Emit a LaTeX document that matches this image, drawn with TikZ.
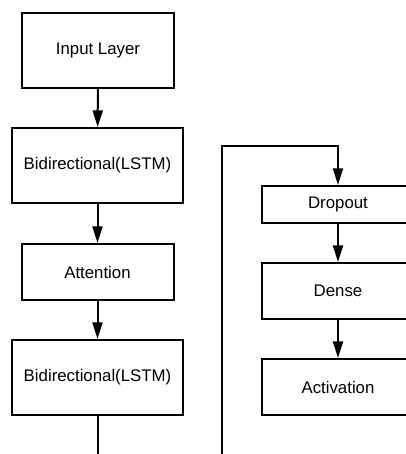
\documentclass[tikz,border=0pt]{standalone}
\usepackage{fontspec}
\setmainfont{Liberation Sans}
\usetikzlibrary{arrows.meta, positioning}

\tikzset{
    layer/.style={draw, rectangle, line width=1.5pt, minimum width=114pt,
        minimum height=42pt, font=\fontsize{12.6}{15}\selectfont},
    widelayer/.style={layer, minimum width=128.25pt, minimum height=56.25pt},
    flow/.style={line width=1.5pt, -{Triangle[length=12.5pt,width=7.5pt]}},
    wire/.style={line width=1.5pt}
}

\begin{document}
\begin{tikzpicture}[x=0.75pt, y=-0.75pt]

    \useasboundingbox (0,0) rectangle (406,454);
    \clip (0,0) rectangle (406,454);

    %left column
    \node[layer, minimum height=56.25pt] (input) at (98,50.5) {Input Layer};
    \node[widelayer] (bilstma) at (97.5,165.5) {Bidirectional(LSTM)};
    \node[layer] (attn) at (97.5,272) {Attention};
    \node[widelayer] (bilstmb) at (97.5,377.5) {Bidirectional(LSTM)};

    %right column
    \node[layer, minimum height=27.75pt] (drop) at (338,204.5) {Dropout};
    \node[layer] (dense) at (338,291) {Dense};
    \node[layer] (act) at (338,387) {Activation};

    %free ends
    \coordinate (outl) at (97.5,460);
    \coordinate (outr) at (222,460);
    \coordinate (turn) at (222,146);

    %arrows
    \draw [flow] (input) -- (bilstma);
    \draw [flow] (bilstma) -- (attn);
    \draw [flow] (attn) -- (bilstmb);
    \draw [wire] (bilstmb) -- (outl);

    \draw [flow] (outr) -- (turn) -| (drop.north);
    \draw [flow] (drop) -- (dense);
    \draw [flow] (dense) -- (act);

\end{tikzpicture}
\end{document}
